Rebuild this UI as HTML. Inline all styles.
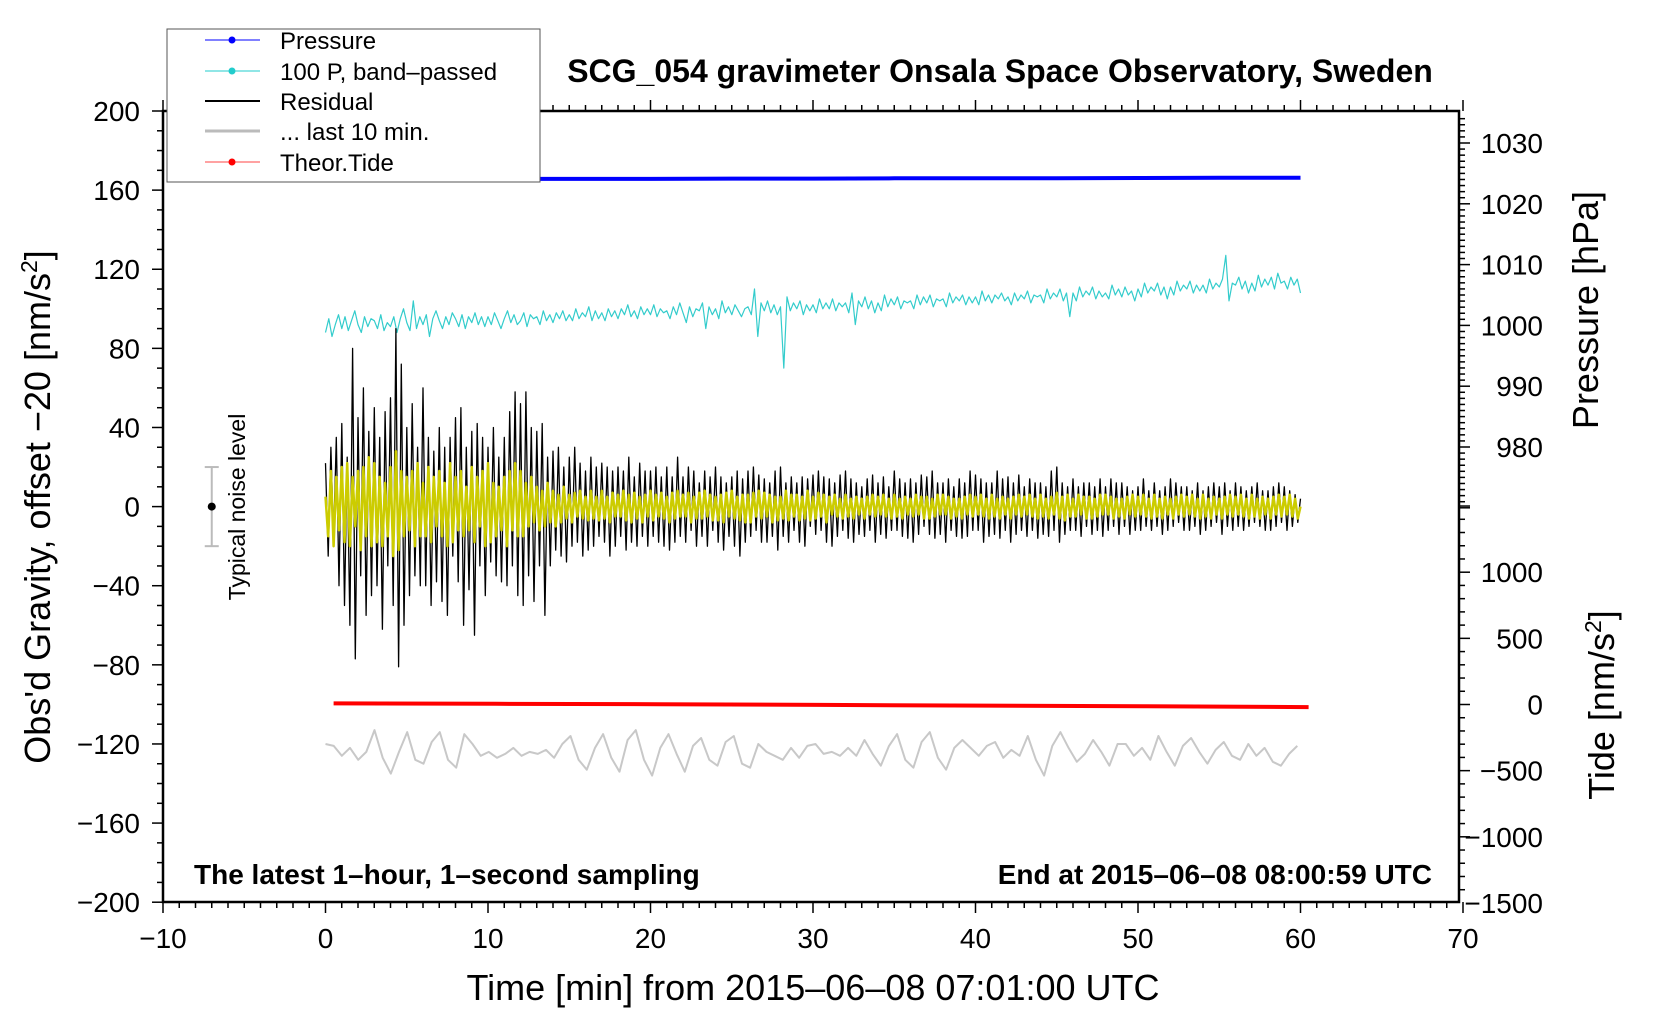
<!DOCTYPE html>
<html><head><meta charset="utf-8"><style>
html,body{margin:0;padding:0;background:#fff;}
svg{display:block;font-family:"Liberation Sans",sans-serif;}
</style></head><body>
<svg id="chart" width="1660" height="1020" viewBox="0 0 1660 1020" xmlns="http://www.w3.org/2000/svg">
<g id="axes"></g>
<g id="series"></g>
<text x="1000" y="82" text-anchor="middle" font-size="32" font-weight="bold">SCG_054 gravimeter Onsala Space Observatory, Sweden</text>
<text x="194" y="884" font-size="28" font-weight="bold">The latest 1–hour, 1–second sampling</text>
<text x="1432" y="884" text-anchor="end" font-size="28" font-weight="bold">End at 2015–06–08 08:00:59 UTC</text>
<text transform="translate(50,507) rotate(-90)" text-anchor="middle" font-size="36">Obs'd Gravity, offset −20 [nm/s<tspan dy="-13" font-size="23">2</tspan><tspan dy="13">]</tspan></text>
<text transform="translate(1598,310) rotate(-90)" text-anchor="middle" font-size="36">Pressure [hPa]</text>
<text transform="translate(1614,705) rotate(-90)" text-anchor="middle" font-size="36">Tide [nm/s<tspan dy="-13" font-size="23">2</tspan><tspan dy="13">]</tspan></text>
<text x="813" y="1000" text-anchor="middle" font-size="36">Time [min] from 2015–06–08 07:01:00 UTC</text>
<text transform="translate(245,507) rotate(-90)" text-anchor="middle" font-size="23">Typical noise level</text>
<g>
<rect x="167" y="29" width="373" height="153" fill="#fff" stroke="#555" stroke-width="1"/>
<g><line x1="205" y1="40" x2="260" y2="40" stroke="#00f" stroke-width="1"/><circle cx="232" cy="40" r="3.5" fill="#00f"/><text x="280" y="49" font-size="24">Pressure</text></g>
<g><line x1="205" y1="71" x2="260" y2="71" stroke="#2cc" stroke-width="1"/><circle cx="232" cy="71" r="3.5" fill="#2cc"/><text x="280" y="80" font-size="24">100 P, band–passed</text></g>
<g><line x1="205" y1="101" x2="260" y2="101" stroke="#000" stroke-width="2"/><text x="280" y="110" font-size="24">Residual</text></g>
<g><line x1="205" y1="131" x2="260" y2="131" stroke="#bbb" stroke-width="3"/><text x="280" y="140" font-size="24">... last 10 min.</text></g>
<g><line x1="205" y1="162" x2="260" y2="162" stroke="#f44" stroke-width="1"/><circle cx="232" cy="162" r="3.5" fill="#f00"/><text x="280" y="171" font-size="24">Theor.Tide</text></g>
</g>
</svg>
<script>
const residual=[22,-25,30,-18,35,-40,42,-50,25,-60,80,-77,45,-35,60,-55,38,-45,50,-40,35,-62,48,-30,55,-50,90,-81,72,-60,40,-45,52,-35,30,-40,60,-40,35,-50,28,-38,40,-48,30,-55,35,-25,45,-38,50,-60,30,-42,38,-65,42,-30,35,-45,30,-28,40,-35,25,-38,35,-40,48,-30,58,-45,52,-50,58,-35,40,-48,38,-30,42,-55,25,-30,28,-22,30,-25,20,-28,25,-20,30,-18,22,-25,18,-22,25,-20,20,-15,22,-18,20,-25,18,-20,20,-15,18,-22,25,-18,15,-20,22,-15,18,-20,18,-15,20,-18,15,-20,20,-22,15,-18,25,-15,15,-18,20,-12,18,-20,12,-15,18,-20,15,-12,20,-18,15,-22,12,-15,15,-20,18,-25,14,-18,18,-15,20,-12,16,-18,14,-18,12,-15,18,-22,20,-15,12,-18,15,-12,12,-18,15,-20,14,-10,16,-14,18,-12,15,-18,14,-20,12,-15,16,-12,18,-16,14,-18,12,-14,10,-15,14,-12,16,-18,12,-14,15,-16,10,-12,18,-12,14,-15,12,-16,14,-18,12,-14,16,-10,15,-14,18,-16,12,-14,12,-18,14,-12,10,-15,14,-16,12,-15,18,-12,16,-12,14,-18,12,-15,12,-14,18,-16,14,-12,15,-18,12,-14,16,-12,10,-15,14,-12,12,-16,12,-14,10,-15,18,-12,20,-18,12,-14,10,-12,14,-12,10,-15,12,-10,12,-14,10,-12,14,-15,10,-12,14,-10,12,-14,12,-10,10,-14,8,-12,10,-12,14,-10,8,-12,12,-10,8,-14,10,-12,14,-10,12,-8,10,-12,10,-12,8,-10,12,-14,8,-12,10,-10,12,-8,10,-14,12,-10,8,-12,12,-10,10,-12,8,-10,10,-8,12,-10,8,-12,8,-12,10,-10,12,-8,10,-12,8,-10,6,-8,4];
const filtered=[5,-15,18,-20,15,-12,20,-18,22,-20,15,-10,18,-22,20,-15,25,-20,22,-18,15,-20,12,-15,20,-25,28,-22,18,-15,15,-12,18,-20,22,-15,12,-15,20,-18,15,-10,18,-15,12,-20,22,-18,15,-12,18,-15,10,-12,20,-18,15,-10,18,-20,22,-18,12,-15,10,-12,15,-20,18,-12,22,-15,18,-15,12,-10,15,-8,10,-12,8,-10,12,-8,8,-10,6,-8,10,-6,6,-8,7,-5,8,-6,5,-7,8,-6,5,-7,8,-6,5,-8,7,-5,6,-5,8,-7,6,-8,7,-6,5,-8,6,-5,8,-7,6,-5,7,-6,5,-8,7,-6,8,-5,6,-5,7,-8,5,-6,7,-6,8,-5,6,-7,5,-7,6,-8,7,-5,8,-6,5,-7,6,-8,6,-8,7,-5,8,-6,7,-5,6,-8,5,-7,5,-6,8,-7,6,-5,6,-7,5,-6,8,-7,5,-6,7,-5,6,-8,5,-4,6,-5,4,-6,6,-5,4,-6,5,-4,4,-6,5,-4,6,-5,5,-4,6,-5,4,-6,6,-5,4,-6,5,-4,4,-5,6,-4,5,-6,5,-6,4,-5,6,-4,6,-4,5,-6,4,-5,4,-6,5,-4,6,-5,5,-4,6,-5,4,-6,6,-5,4,-6,5,-4,4,-6,5,-4,6,-5,5,-4,6,-5,4,-6,6,-5,4,-6,5,-4,7,-6,5,-7,6,-5,4,-5,6,-4,5,-6,5,-6,4,-5,6,-4,6,-4,5,-6,4,-5,4,-6,5,-4,6,-5,5,-4,6,-5,4,-6,6,-5,4,-6,5,-4,4,-6,5,-4,6,-5,5,-4,6,-5,4,-6,6,-5,4,-6,5,-4,4,-6,5,-4,6,-5,5,-4,6,-5,4,-6,6,-5,4,-6,5,-4,4,-6,5,-4,6,-5,5,-4,6,-5,4,-6,0];
const bandpassed=[88,95,86,92,97,90,96,89,94,99,92,88,96,91,95,94,90,97,89,93,91,96,88,95,100,93,89,104,90,96,92,97,86,95,99,94,90,96,92,98,95,91,97,90,96,93,98,92,96,91,96,92,98,94,90,95,99,93,97,92,94,98,91,97,95,96,92,99,94,97,93,98,95,99,94,97,94,100,95,98,96,101,94,99,95,98,94,100,96,99,95,100,97,102,96,99,95,101,97,100,97,102,96,100,98,99,95,101,97,103,98,93,101,96,100,99,103,90,101,97,100,95,104,98,101,97,102,99,96,100,101,97,110,86,103,99,104,98,102,97,101,70,106,99,103,100,104,97,102,99,102,98,105,100,103,100,105,99,103,101,103,98,108,92,104,101,106,100,104,98,103,99,107,101,105,102,106,100,104,103,104,100,107,102,106,103,107,101,105,104,105,101,108,103,106,104,107,102,106,103,106,102,109,104,107,103,107,105,108,104,106,102,108,104,107,105,109,103,107,106,107,103,110,105,108,106,110,104,108,96,108,104,111,106,109,107,111,105,109,106,108,105,112,107,110,106,111,107,109,104,110,106,113,108,111,109,113,107,111,105,111,107,114,109,112,110,114,108,112,109,112,108,115,110,113,111,115,127,104,113,112,116,110,114,108,113,109,117,111,115,112,116,110,118,113,114,110,116,112,115,108];
const pressure=[1024.1,1024.1,1024.1,1024.1,1024.1,1024.15,1024.15,1024.2,1024.2,1024.2,1024.25,1024.3,1024.3];
const tide=[8,5,2,-3,-8,-13,-20];
const last10=[-120,-121,-126,-122,-128,-124,-113,-127,-135,-124,-114,-128,-130,-119,-114,-128,-132,-115,-120,-126,-124,-127,-125,-122,-126,-124,-125,-123,-127,-120,-116,-128,-133,-122,-115,-127,-134,-118,-113,-128,-136,-122,-115,-125,-134,-121,-117,-128,-131,-119,-116,-130,-132,-120,-124,-126,-128,-122,-127,-121,-120,-125,-124,-126,-122,-126,-118,-125,-131,-121,-115,-128,-132,-119,-114,-127,-133,-122,-118,-122,-126,-121,-119,-127,-123,-126,-116,-128,-136,-121,-114,-122,-129,-125,-118,-124,-131,-120,-120,-126,-122,-128,-116,-124,-131,-121,-117,-124,-130,-123,-119,-126,-128,-120,-126,-122,-129,-131,-125,-121];
const xTicks=[-10,0,10,20,30,40,50,60,70];
const yTicks=[-200,-160,-120,-80,-40,0,40,80,120,160,200];
const pTicks=[980,990,1000,1010,1020,1030];
const tTicks=[-1500,-1000,-500,0,500,1000];

const NS="http://www.w3.org/2000/svg";
const X=t=>163+(t+10)*16.25;
const Y=g=>506.6-g*1.978;
const P=p=>143+(1030-p)*6.08;
const T=v=>704.5-v*0.1323;
const axes=document.getElementById('axes');
const series=document.getElementById('series');
function mk(tag,attrs,parent){const e=document.createElementNS(NS,tag);for(const k in attrs)e.setAttribute(k,attrs[k]);parent.appendChild(e);return e;}
function tick(x1,y1,x2,y2,w){return mk('line',{x1:x1,y1:y1,x2:x2,y2:y2,stroke:'#000','stroke-width':w||1.5},axes);}
function label(x,y,s,anchor){const e=mk('text',{x:x,y:y,'text-anchor':anchor,'font-size':28},axes);e.textContent=s;return e;}
const frame=mk('rect',{x:163,y:111,width:1296,height:791,fill:'none',stroke:'#000','stroke-width':2.5},axes);


for(let t=-10;t<=70;t++){const major=t%10===0;tick(X(t),902,X(t),902+(major?11:6));tick(X(t),111,X(t),111-(major?11:6));}
xTicks.forEach(t=>{const e=label(X(t),948,String(t).replace('-','−'),'middle');});
for(let g=-200;g<=200;g+=10){const major=g%40===0;tick(163,Y(g),163-(major?11:6),Y(g));}
yTicks.forEach(g=>{const e=label(140,Y(g)+10,String(g).replace('-','−'),'end');});
for(let p=970;p<=1034;p++){const y=P(p);if(y<111||y>510)continue;tick(1459,y,1459+(p%10===0?11:6),y);}
pTicks.forEach(p=>{const e=label(1543,P(p)+10,String(p),'end');});
for(let v=-1500;v<=1500;v+=100){const y=T(v);if(y<505||y>902)continue;tick(1459,y,1459+(v%500===0?11:6),y);}
tTicks.forEach(v=>{const e=label(1543,T(v)+10,String(v).replace('-','−'),'end');});
function path(vals,tx,ty,stroke,w){let d='';vals.forEach((v,i)=>{d+=(i?'L':'M')+tx(i).toFixed(1)+' '+ty(v).toFixed(1);});return mk('path',{d:d,fill:'none',stroke:stroke,'stroke-width':w,'stroke-linejoin':'round'},series);}
let e=path(last10,i=>X(i*59.8/(last10.length-1)),Y,'#c8c8c8',2);


e=path(pressure,i=>X(i*5),P,'#0000ff',4);


e=path(tide,i=>X(0.5+i*10),T,'#ff0000',4);


e=path(bandpassed,i=>X(i*60/(bandpassed.length-1)),Y,'#33cccc',1.2);


e=path(residual,i=>X(i*60/(residual.length-1)),Y,'#000000',1.3);


e=path(filtered,i=>X(i*60/(filtered.length-1)),Y,'#cccc00',2.5);


const nb=mk('g',{},series);


mk('line',{x1:X(-7),y1:Y(20),x2:X(-7),y2:Y(-20),stroke:'#bbb','stroke-width':2},nb);
mk('line',{x1:X(-7)-7,y1:Y(20),x2:X(-7)+7,y2:Y(20),stroke:'#bbb','stroke-width':2},nb);
mk('line',{x1:X(-7)-7,y1:Y(-20),x2:X(-7)+7,y2:Y(-20),stroke:'#bbb','stroke-width':2},nb);
mk('circle',{cx:X(-7),cy:Y(0),r:4,fill:'#000'},nb);
</script>
</body></html>
